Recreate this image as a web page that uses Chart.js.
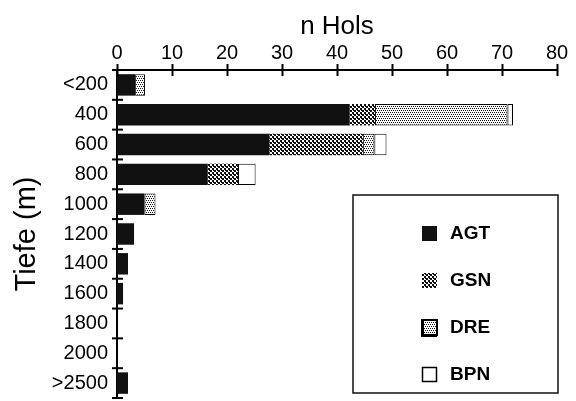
<!DOCTYPE html>
<html>
<head>
<meta charset="utf-8">
<script src="https://cdn.jsdelivr.net/npm/chart.js@4"></script>
<style>
html,body{margin:0;padding:0;background:#fff;}
#wrap{width:576px;height:401px;position:relative;}
</style>
</head>
<body>
<div id="wrap"><canvas id="c" width="576" height="401"></canvas></div>
<script>
const categories = ['<200','400','600','800','1000','1200','1400','1600','1800','2000','>2500'];
const seriesNames = ['AGT','GSN','DRE','BPN'];
const agt = [3.3, 42.3, 27.7, 16.5, 5.0, 3.1, 2.0, 1.1, 0, 0, 2.0];
const gsn = [0, 4.6, 17.0, 5.5, 0, 0, 0, 0, 0, 0, 0];
const dre = [1.8, 24.1, 2.1, 0, 2.0, 0, 0, 0, 0, 0, 0];
const bpn = [0, 1.0, 2.2, 3.2, 0, 0, 0, 0, 0, 0, 0];
const xTicks = [0,10,20,30,40,50,60,70,80];

const canvas = document.getElementById('c');
const ctx = canvas.getContext('2d');

function makePattern(size, draw){
  const p = document.createElement('canvas');
  p.width = size; p.height = size;
  const g = p.getContext('2d');
  g.fillStyle = '#fff'; g.fillRect(0,0,size,size);
  g.fillStyle = '#111';
  draw(g);
  return ctx.createPattern(p, 'repeat');
}
const gsnPat = makePattern(4, g => { g.fillRect(0,0,2,2); g.fillRect(2,2,2,2); g.fillRect(1,2,1,1); });
const drePat = makePattern(4, g => { g.fillRect(0,0,1,1); g.fillRect(2,0,1,1); g.fillRect(1,2,1,1); g.fillRect(3,2,1,1); });

const fills = ['#111111', gsnPat, drePat, '#ffffff'];
const values = [agt, gsn, dre, bpn];

const axisDeco = {
  id: 'axisDeco',
  afterDraw(chart){
    const c = chart.ctx;
    const xs = chart.scales.x, ys = chart.scales.y;
    const ca = chart.chartArea;
    c.save();
    c.strokeStyle = '#000';
    c.lineWidth = 2;
    xTicks.forEach(v => {
      const px = Math.round(xs.getPixelForValue(v)) + 0.5;
      c.beginPath(); c.moveTo(px, ca.top - 6); c.lineTo(px, ca.top + 6); c.stroke();
    });
    const half = (ys.getPixelForValue(1) - ys.getPixelForValue(0)) / 2;
    for (let i = 0; i <= categories.length; i++) {
      const py = i < categories.length ? ys.getPixelForValue(i) - half : ys.getPixelForValue(i - 1) + half;
      c.beginPath(); c.moveTo(ca.left - 5, py); c.lineTo(ca.left + 6, py); c.stroke();
    }
    const bx = 353, by = 195, bw = 205, bh = 198;
    c.fillStyle = '#fff';
    c.fillRect(bx, by, bw, bh);
    c.lineWidth = 1.5;
    c.strokeStyle = '#111';
    c.strokeRect(bx, by, bw, bh);
    const ysL = [233, 280, 327, 374];
    chart.data.datasets.forEach((ds, i) => {
      const sx = 422, sy = ysL[i] - 7, s = 15;
      c.fillStyle = ds.backgroundColor;
      c.fillRect(sx, sy, s, s);
      if (i === 2) { c.lineWidth = 2; c.strokeStyle = '#000'; c.strokeRect(sx, sy, s, s); c.fillStyle='#000'; c.fillRect(sx-1, sy, 3, s+1); c.fillRect(sx-1, sy+s-1, s+1, 3); }
      if (i === 3) { c.lineWidth = 1.5; c.strokeStyle = '#000'; c.strokeRect(sx+0.5, sy+0.5, s-1, s-1); }
      c.fillStyle = '#000';
      c.font = 'bold 19px "Liberation Sans", Arial, sans-serif';
      c.textBaseline = 'middle';
      c.textAlign = 'left';
      c.fillText(ds.label, 450, ysL[i] + 1);
    });
    c.restore();
  }
};

new Chart(ctx, {
  type: 'bar',
  data: {
    labels: categories,
    datasets: seriesNames.map((n, i) => ({
      label: n,
      data: values[i],
      backgroundColor: fills[i],
      borderColor: '#000',
      borderWidth: i >= 2 ? 1 : 0,
      borderSkipped: false,
      barPercentage: 0.72,
      categoryPercentage: 1.0
    }))
  },
  options: {
    indexAxis: 'y',
    responsive: false,
    animation: false,
    layout: { padding: { left: 0, right: 19, top: 0, bottom: 3 } },
    plugins: { legend: { display: false }, tooltip: { enabled: false } },
    scales: {
      x: {
        position: 'top',
        stacked: true,
        min: 0, max: 80,
        afterFit(s){ s.height = 70; s.paddingLeft = 0; s.paddingRight = 0; },
        afterBuildTicks(s){ s.ticks = xTicks.map(v => ({ value: v })); },
        grid: { display: false, drawTicks: false },
        border: { display: true, color: '#000', width: 2 },
        ticks: { color: '#000', padding: 5, font: { size: 20, family: '"Liberation Sans", Arial, sans-serif' } },
        title: { display: true, text: 'n Hols', color: '#000', padding: { top: 11, bottom: 0 }, font: { size: 26, family: '"Liberation Sans", Arial, sans-serif' } }
      },
      y: {
        stacked: true,
        afterFit(s){ s.width = 117; s.paddingTop = 0; s.paddingBottom = 0; },
        grid: { display: false, drawTicks: false },
        border: { display: true, color: '#000', width: 2 },
        ticks: { color: '#000', padding: 9, font: { size: 20, family: '"Liberation Sans", Arial, sans-serif' } },
        title: { display: true, text: 'Tiefe (m)', color: '#000', padding: { top: 10, bottom: 0 }, font: { size: 29, family: '"Liberation Sans", Arial, sans-serif' } }
      }
    }
  },
  plugins: [axisDeco]
});
</script>
</body>
</html>
